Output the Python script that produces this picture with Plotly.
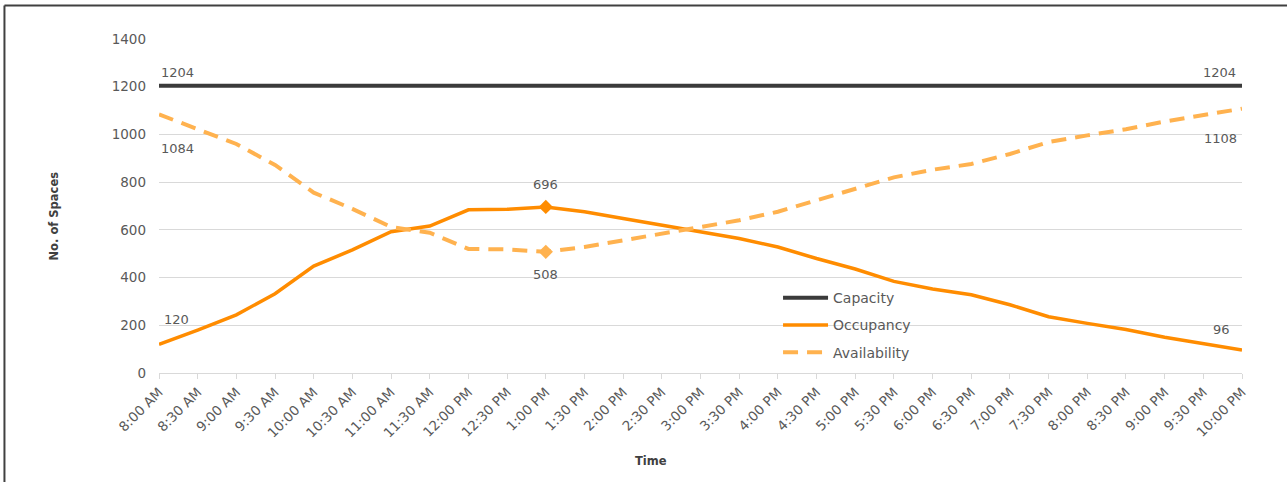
import plotly.graph_objects as go

# Half-hour time slots
times = ["8:00 AM", "8:30 AM", "9:00 AM", "9:30 AM", "10:00 AM", "10:30 AM",
         "11:00 AM", "11:30 AM", "12:00 PM", "12:30 PM", "1:00 PM", "1:30 PM",
         "2:00 PM", "2:30 PM", "3:00 PM", "3:30 PM", "4:00 PM", "4:30 PM",
         "5:00 PM", "5:30 PM", "6:00 PM", "6:30 PM", "7:00 PM", "7:30 PM",
         "8:00 PM", "8:30 PM", "9:00 PM", "9:30 PM", "10:00 PM"]

capacity = [1204] * 29
occupancy = [120, 180, 244, 332, 448, 516, 592, 616, 684, 686, 696, 676, 648,
             620, 592, 564, 528, 480, 436, 384, 352, 328, 286, 236, 208, 182,
             150, 122, 96]
availability = [1084, 1024, 960, 872, 756, 688, 612, 588, 520, 518, 508, 528,
                556, 584, 612, 640, 676, 724, 768, 820, 852, 876, 918, 968, 996,
                1022, 1054, 1082, 1108]

y_ticks = [0, 200, 400, 600, 800, 1000, 1200, 1400]

PEAK = occupancy.index(max(occupancy))
LAST = len(times) - 1

FONT = "'DejaVu Sans', sans-serif"
TXT = "#595959"
OCC = "#FF8C00"
AVL = "#FFB24F"

fig = go.Figure()

fig.add_trace(go.Scatter(
    x=times, y=capacity, name="Capacity", mode="lines",
    line=dict(color="#3b3b3b", width=4), legendgroup="a"))

fig.add_trace(go.Scatter(
    x=times, y=occupancy, name="Occupancy", mode="lines",
    line=dict(color=OCC, width=3.5), legendgroup="b"))

fig.add_trace(go.Scatter(
    x=times, y=availability, name="Availability", mode="lines",
    line=dict(color=AVL, width=4, dash="15px,9px"), legendgroup="c"))

# Diamond markers at the peak-occupancy slot
fig.add_trace(go.Scatter(
    x=[times[PEAK]], y=[occupancy[PEAK]], mode="markers", showlegend=False,
    marker=dict(symbol="diamond", size=11, color=OCC)))
fig.add_trace(go.Scatter(
    x=[times[PEAK]], y=[availability[PEAK]], mode="markers", showlegend=False,
    marker=dict(symbol="diamond", size=11, color=AVL)))

# Data labels
labels = [
    (0, capacity[0], "left", 0, 13),
    (LAST, capacity[LAST], "right", -4, 13),
    (0, availability[0], "left", 0, -34),
    (LAST, availability[LAST], "right", -3, -30),
    (0, occupancy[0], "left", 3, 25),
    (LAST, occupancy[LAST], "right", -10, 21),
    (PEAK, occupancy[PEAK], "center", 0, 22),
    (PEAK, availability[PEAK], "center", 0, -23),
]
for i, v, anchor, dx, dy in labels:
    fig.add_annotation(x=times[i], y=v, text=str(v), showarrow=False,
                       xanchor=anchor, yanchor="middle", xshift=dx, yshift=dy,
                       font=dict(family=FONT, size=13, color=TXT))

# Axis titles
fig.add_annotation(xref="paper", yref="paper", x=0.454, y=-0.263,
                   xanchor="center", yanchor="middle",
                   text="<b>Time</b>", showarrow=False,
                   font=dict(family=FONT, size=11.5, color="#404040"))
fig.add_annotation(xref="paper", yref="paper", x=-0.0965, y=0.47,
                   xanchor="center", yanchor="middle",
                   text="<b>No. of Spaces</b>", showarrow=False, textangle=-90,
                   font=dict(family=FONT, size=11.5, color="#404040"))

# Chart frame
fig.add_shape(type="line", xref="paper", yref="paper",
              x0=-0.1427, x1=1.2, y0=1.1003, y1=1.1003,
              line=dict(color="#404040", width=2))
fig.add_shape(type="line", xref="paper", yref="paper",
              x0=-0.1427, x1=-0.1427, y0=1.1003, y1=-0.5,
              line=dict(color="#404040", width=2))

fig.update_layout(
    width=1287, height=482,
    margin=dict(l=159, r=45, t=39, b=109),
    paper_bgcolor="white", plot_bgcolor="white",
    font=dict(family=FONT, size=12, color=TXT),
    showlegend=True,
    legend=dict(x=0.5716, y=0.272, xanchor="left", yanchor="top",
                bgcolor="rgba(0,0,0,0)", tracegroupgap=6, itemwidth=45,
                font=dict(family=FONT, size=14, color=TXT)),
    xaxis=dict(type="category", range=[0, LAST], tickangle=-45,
               showgrid=False, showline=True, linecolor="#d9d9d9",
               ticks="outside", ticklen=5, tickcolor="#d9d9d9",
               tickfont=dict(family=FONT, size=13.5, color=TXT)),
    yaxis=dict(range=[0, 1400], tickvals=y_ticks, showgrid=True,
               gridcolor="#d9d9d9", gridwidth=1, zeroline=False,
               showline=False, ticks="", ticklabelstandoff=12,
               tickfont=dict(family=FONT, size=13.5, color=TXT)),
)

fig.write_html("out.html")
